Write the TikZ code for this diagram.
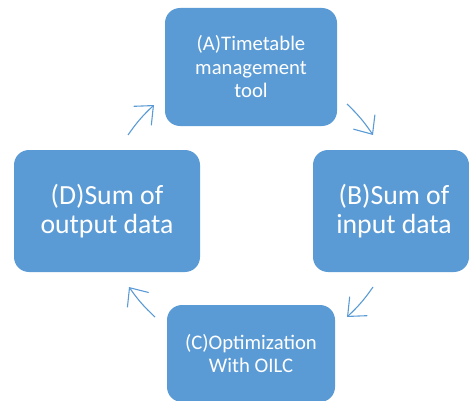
\documentclass[tikz,border=0pt]{standalone}
\usepackage{fontspec}
\setmainfont{Carlito}
\definecolor{cycleblue}{RGB}{91,155,213}
\usetikzlibrary{arrows.meta,positioning}

\begin{document}
\begin{tikzpicture}[x=1pt, y=1pt,
    box/.style={rectangle, fill=cycleblue, text=white, align=center,
                rounded corners=15pt, inner sep=0pt},
    small/.style={font=\fontsize{20.7}{23.5}\selectfont},
    large/.style={font=\fontsize{27.7}{29}\selectfont},
    arrow/.style={-{Straight Barb[length=15pt, width=26pt]}, line width=1.1pt, cycleblue, bend left=6}]

    \useasboundingbox (0,0) rectangle (469,400);
    \clip (0,0) rectangle (469,400);

    \node[box, small, minimum width=172pt, minimum height=118pt] (timetable) at (251,333) {(A)Timetable\\management\\tool};
    \node[box, large, minimum width=156pt, minimum height=122pt, inner xsep=3pt, xshift=0pt] (inputsum) at (391,189) {\hspace*{6pt}(B)Sum of\\\hspace*{6pt}input data};
    \node[box, small, minimum width=168pt, minimum height=97pt] (optim) at (251,46.5) {(C)Optimization\\With OILC};
    \node[box, large, minimum width=186pt, minimum height=122pt] (outputsum) at (107,189) {(D)Sum of\\output data};

    \coordinate (ab1) at (347,296);
    \coordinate (ab2) at (373,265);
    \coordinate (bc1) at (373,113);
    \coordinate (bc2) at (347,83);
    \coordinate (cd1) at (155,83);
    \coordinate (cd2) at (129,113);
    \coordinate (da1) at (128,265);
    \coordinate (da2) at (154,295);

    \draw[arrow] (ab1) to (ab2);
    \draw[arrow] (bc1) to (bc2);
    \draw[arrow] (cd1) to (cd2);
    \draw[arrow] (da1) to (da2);
\end{tikzpicture}
\end{document}
